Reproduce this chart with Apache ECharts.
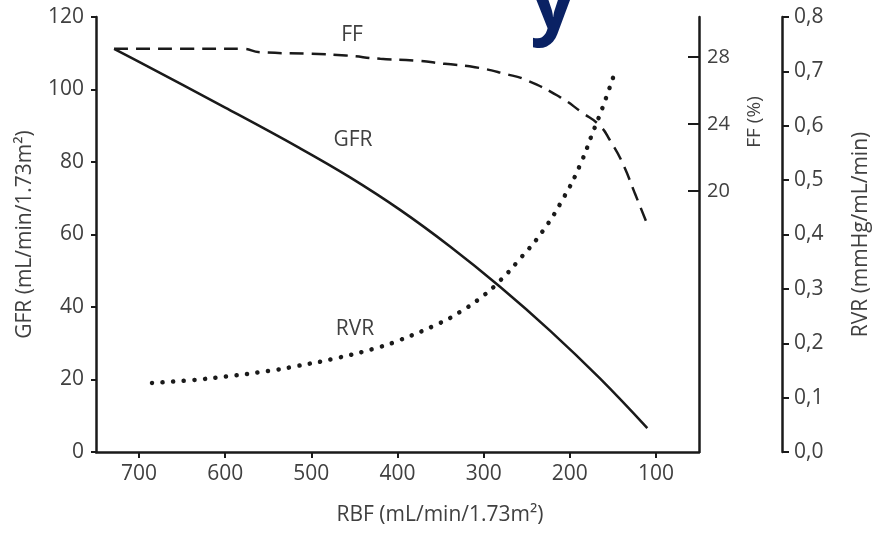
<!DOCTYPE html>
<html>
<head>
<meta charset="utf-8">
<script src="https://cdn.jsdelivr.net/npm/echarts@6/dist/echarts.min.js"></script>
<style>
  html, body { margin: 0; padding: 0; background: #fff; }
  #chart { width: 873px; height: 533px; }
</style>
</head>
<body>
<div id="chart"></div>
<script>
// RBF (x) ticks
const rbfTicks = [100, 200, 300, 400, 500, 600, 700];
const ffTicks = [20, 24, 28];

// GFR (solid) - mL/min/1.73m2
const gfrRbf = [729, 700, 600, 514, 456, 397, 339, 281, 223, 165, 110];
const gfrValues = [111.2, 107.6, 95.0, 83.9, 75.9, 66.8, 56.7, 45.6, 33.5, 20.3, 6.6];

// FF (dashed) - %
const ffRbf = [729, 650, 580, 560, 500, 460, 420, 380, 345, 310, 275, 249, 211, 186, 165, 153, 139, 124, 110];
const ffValues = [28.5, 28.5, 28.5, 28.3, 28.2, 28.1, 27.9, 27.8, 27.6, 27.4, 27.0, 26.6, 25.6, 24.7, 23.9, 23.0, 21.7, 19.8, 18.0];

// RVR (dotted) - mmHg/mL/min
const rvrRbf = [685, 640, 599, 550, 517, 467, 421, 397, 351, 328, 304, 281, 258, 232, 207, 188, 173, 163, 149];
const rvrValues = [0.127, 0.132, 0.139, 0.149, 0.158, 0.174, 0.193, 0.206, 0.237, 0.257, 0.283, 0.315, 0.355, 0.405, 0.468, 0.528, 0.589, 0.629, 0.692];

const zip = (xs, ys) => xs.map((x, i) => [x, ys[i]]);

const font = 'Open Sans';
const txt = '#404040';
const ink = '#1a1a1a';

let chart = echarts.init(document.getElementById('chart'));

chart.setOption({
    animation: false,
    backgroundColor: '#fff',
    textStyle: { fontFamily: font },
    grid: {
        left: 96,
        right: 174,
        top: 17,
        bottom: 81,
        outerBoundsMode: 'none'
    },
    xAxis: {
        type: 'value',
        inverse: true,
        min: 50,
        max: 750,
        axisLine: { lineStyle: { color: ink, width: 2.5 } },
        axisTick: {
            length: 6,
            lineStyle: { color: ink, width: 2 },
            customValues: rbfTicks
        },
        axisLabel: {
            color: txt,
            fontSize: 21,
            margin: 12,
            customValues: rbfTicks
        },
        splitLine: { show: false }
    },
    yAxis: [{
            type: 'value',
            min: 0,
            max: 120,
            interval: 20,
            name: 'GFR (mL/min/1.73m²)',
            nameLocation: 'middle',
            nameRotate: 90,
            nameGap: 60,
            nameTextStyle: { color: txt, fontSize: 21 },
            axisLine: { show: true, lineStyle: { color: ink, width: 2.5 } },
            axisTick: { length: 5, lineStyle: { color: ink, width: 2 } },
            axisLabel: { color: txt, fontSize: 21, margin: 12 },
            splitLine: { show: false }
        },
        {
            type: 'value',
            position: 'right',
            offset: 0,
            min: 4.4,
            max: 30.4,
            axisLine: { show: true, lineStyle: { color: ink, width: 2.5 } },
            axisTick: {
                inside: true,
                length: 11,
                lineStyle: { color: ink, width: 2 },
                customValues: ffTicks
            },
            axisLabel: {
                color: txt,
                fontSize: 20,
                margin: 8,
                customValues: ffTicks
            },
            splitLine: { show: false }
        },
        {
            type: 'value',
            position: 'right',
            offset: 83,
            min: 0,
            max: 0.8,
            interval: 0.1,
            name: 'RVR (mmHg/mL/min)',
            nameLocation: 'middle',
            nameRotate: 90,
            nameGap: 69,
            nameTextStyle: { color: txt, fontSize: 21 },
            axisLine: { show: true, lineStyle: { color: ink, width: 2.5 } },
            axisTick: { length: 7, lineStyle: { color: ink, width: 2 } },
            axisLabel: {
                color: txt,
                fontSize: 21,
                margin: 12,
                formatter: v => v.toFixed(1).replace('.', ',')
            },
            splitLine: { show: false }
        }
    ],
    series: [{
            name: 'GFR',
            type: 'line',
            yAxisIndex: 0,
            smooth: 0.4,
            showSymbol: false,
            data: zip(gfrRbf, gfrValues),
            lineStyle: { color: ink, width: 2.5 }
        },
        {
            name: 'FF',
            type: 'line',
            yAxisIndex: 1,
            smooth: true,
            showSymbol: false,
            data: zip(ffRbf, ffValues),
            lineStyle: { color: ink, width: 2.5, type: [14, 8] }
        },
        {
            name: 'RVR',
            type: 'line',
            yAxisIndex: 2,
            smooth: true,
            showSymbol: false,
            data: zip(rvrRbf, rvrValues),
            lineStyle: { color: ink, width: 4.5, type: [0.1, 10.5], cap: 'round' }
        }
    ],
    graphic: [
        // series labels
        { type: 'text', x: 352, y: 35, style: { text: 'FF', fill: txt, font: '21px "Open Sans"', align: 'center', verticalAlign: 'middle' } },
        { type: 'text', x: 353, y: 140, style: { text: 'GFR', fill: txt, font: '21px "Open Sans"', align: 'center', verticalAlign: 'middle' } },
        { type: 'text', x: 355, y: 329, style: { text: 'RVR', fill: txt, font: '21px "Open Sans"', align: 'center', verticalAlign: 'middle' } },
        // axis names that sit off-centre
        {
            type: 'text', x: 755, y: 122, rotation: Math.PI / 2,
            style: { text: 'FF (%)', fill: txt, font: '19px "Open Sans"', align: 'center', verticalAlign: 'middle' }
        },
        {
            type: 'text', x: 440, y: 515,
            style: { text: 'RBF (mL/min/1.73m²)', fill: txt, font: '21px "Open Sans"', align: 'center', verticalAlign: 'middle' }
        },
        // cropped heading glyph at the top edge
        {
            type: 'text', x: 553, y: 6,
            style: { text: 'y', fill: '#0a2264', font: 'bold 80px "Open Sans"', align: 'center', verticalAlign: 'middle' }
        }
    ]
});
</script>
</body>
</html>
